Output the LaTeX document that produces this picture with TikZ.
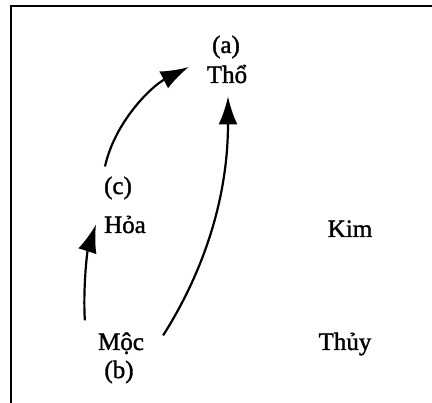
\documentclass[tikz,border=0pt]{standalone}
\usepackage{fontspec}
\setmainfont{Liberation Serif}
\newfontface\elemfont{Liberation Serif}[FakeBold=1.3]
\usetikzlibrary{arrows.meta}
\tikzset{
  elem/.style  = {font=\elemfont\fontsize{25}{28}\selectfont, anchor=base, inner sep=2pt},
  sig/.style   = {-{Latex[length=28pt,width=19pt]}, line width=2.2pt},
  frame/.style = {line width=2.2pt},
}

\begin{document}
\begin{tikzpicture}[x=1pt,y=1pt]
\useasboundingbox (0,0) rectangle (432,403);
% open frame: top and left edge only
\draw[frame] (11,0) -- (11,397) -- (432,397);
% the five elements
\node[elem] (a)    at (226,350) {(a)};
\node[elem] (tho)  at (227,320) {Thổ};
\node[elem] (c)    at (118,209) {(c)};
\node[elem] (hoa)  at (125,170) {Hỏa};
\node[elem] (kim)  at (350,166) {Kim};
\node[elem] (moc)  at (121,53)  {Mộc};
\node[elem] (b)    at (119,25)  {(b)};
\node[elem] (thuy) at (345,53)  {Thủy};
% arrows
\draw[sig] ([xshift=-13pt,yshift=8pt]c.north) .. controls +(10,45) and +(-37,-19) .. ([xshift=-16pt,yshift=7pt]tho.west);
\draw[sig] ([xshift=17pt,yshift=-5pt]moc.north east) .. controls +(35,55) and +(0,-110) .. ([xshift=1pt,yshift=-11pt]tho.south);
\draw[sig] ([xshift=-11pt,yshift=10pt]moc.north west) .. controls +(-2,30) and +(-9,-28) .. ([xshift=-6pt]hoa.west);
\end{tikzpicture}
\end{document}
